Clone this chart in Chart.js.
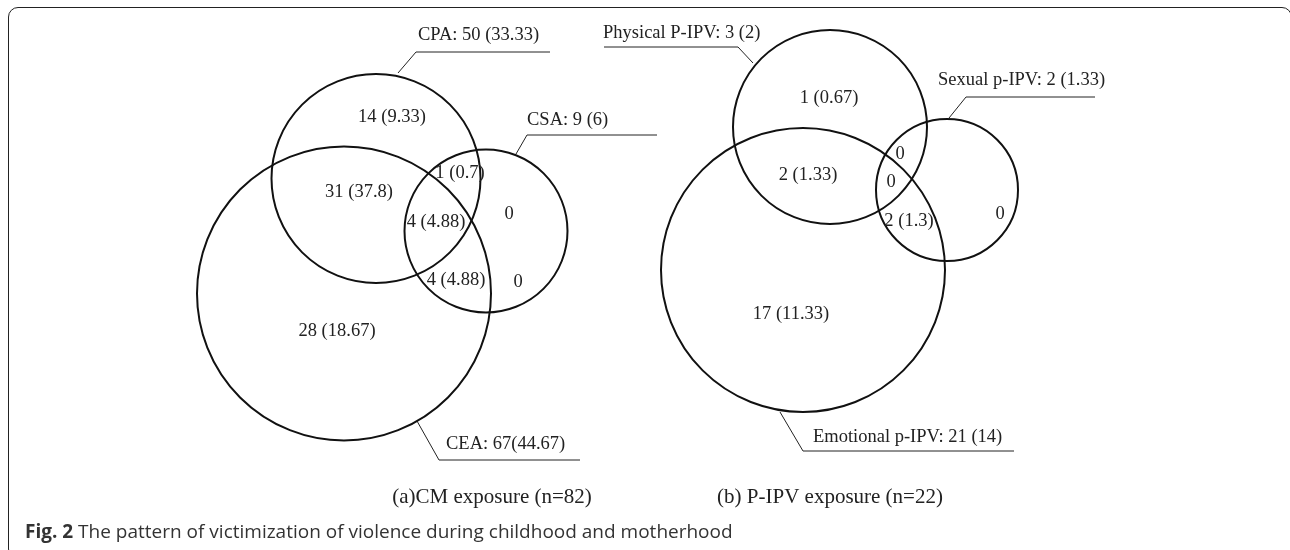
<!DOCTYPE html>
<html>
<head>
<meta charset="utf-8">
<script src="https://cdn.jsdelivr.net/npm/chart.js@4.4.1/dist/chart.umd.min.js"></script>
<style>
html, body { margin:0; padding:0; background:#fff; overflow:hidden; }
#wrap { position:relative; width:1290px; height:550px; }
#frame { position:absolute; left:8px; top:7px; width:1284px; height:552px; box-sizing:border-box;
         border:1.5px solid #222; border-radius:10px; }
canvas { position:absolute; left:0; top:0; }
</style>
</head>
<body>
<div id="wrap">
  <div id="frame"></div>
  <canvas id="venn" width="1290" height="550"></canvas>
</div>
<script>
// figure units: x 0..1290, y 0..550 (top down)
// circles - panel (a): CPA, CEA, CSA / panel (b): physical, emotional, sexual
const circleNames = ['CPA', 'CEA', 'CSA', 'Physical P-IPV', 'Emotional p-IPV', 'Sexual p-IPV'];
const circleX = [376, 344, 486, 830, 803, 947];
const circleY = [178.5, 293.5, 231, 127, 270, 190];
const circleR = [104.5, 147, 81.5, 97, 142, 71];

// counts (percent) inside each region
const regionText = ['14 (9.33)', '31 (37.8)', '1 (0.7)', '4 (4.88)', '0', '4 (4.88)', '0', '28 (18.67)',
                    '1 (0.67)', '2 (1.33)', '0', '0', '2 (1.3)', '0', '17 (11.33)'];
const regionX = [392, 359, 460, 436, 509, 456, 518, 337, 829, 808, 900, 891, 909, 1000, 791];
const regionY = [117, 192, 173, 222, 214, 280, 282, 331, 98, 175, 154, 182, 221, 214, 314];

// set totals with their leader lines
const setText = ['CPA: 50 (33.33)', 'CSA: 9 (6)', 'CEA: 67(44.67)',
                 'Physical P-IPV: 3 (2)', 'Sexual p-IPV: 2 (1.33)', 'Emotional p-IPV: 21 (14)'];
const setTextX = [418, 527, 446, 603, 938, 813];
const setTextY = [35, 120, 444, 33, 80, 437];
const leaderLines = [
    [[398, 73], [416, 52], [550, 52]],
    [[516, 154], [527, 135], [657, 135]],
    [[417, 421], [439, 460], [580, 460]],
    [[753, 63], [738, 47], [604, 47]],
    [[949, 118], [966, 97], [1095, 97]],
    [[780, 412], [803, 451], [1014, 451]]
];

const panelTitles = ['(a)CM exposure (n=82)', '(b) P-IPV exposure (n=22)'];
const panelTitleX = [492, 830];
const panelTitleY = [497, 497];

const SERIF = '"Liberation Serif", "Times New Roman", serif';

const textPlugin = {
    id: 'vennText',
    afterDatasetsDraw(chart) {
        const ctx = chart.ctx, sx = chart.scales.x, sy = chart.scales.y;
        ctx.save();
        ctx.textBaseline = 'middle';
        ctx.fillStyle = '#222';
        ctx.font = '18.5px ' + SERIF;
        ctx.textAlign = 'center';
        regionText.forEach((t, i) => ctx.fillText(t, sx.getPixelForValue(regionX[i]), sy.getPixelForValue(regionY[i])));
        ctx.textAlign = 'left';
        setText.forEach((t, i) => ctx.fillText(t, sx.getPixelForValue(setTextX[i]), sy.getPixelForValue(setTextY[i])));
        ctx.font = '21px ' + SERIF;
        ctx.textAlign = 'center';
        panelTitles.forEach((t, i) => ctx.fillText(t, sx.getPixelForValue(panelTitleX[i]), sy.getPixelForValue(panelTitleY[i])));
        // caption
        ctx.textAlign = 'left';
        ctx.fillStyle = '#333';
        ctx.font = 'bold 19px "Open Sans", sans-serif';
        const cx = sx.getPixelForValue(25), cy = sy.getPixelForValue(533);
        ctx.fillText('Fig. 2', cx, cy);
        const w = ctx.measureText('Fig. 2 ').width;
        ctx.font = '19px "Open Sans", sans-serif';
        ctx.fillText('The pattern of victimization of violence during childhood and motherhood', cx + w, cy);
        ctx.restore();
    }
};

// radius given in figure units, turned into pixels by the x scale
function unitRadius(c) {
    if (!c.raw) return 0;
    const s = c.chart.scales.x;
    const v = Math.abs(s.getPixelForValue(c.raw.size) - s.getPixelForValue(0));
    return isFinite(v) ? v : 0;
}

const circleSet = {
    type: 'scatter',
    label: 'sets',
    data: circleX.map((x, i) => ({ x: x, y: circleY[i], size: circleR[i], name: circleNames[i] })),
    showLine: false,
    pointStyle: 'circle',
    pointBackgroundColor: 'rgba(0,0,0,0)',
    pointBorderColor: '#111',
    pointBorderWidth: 2,
    pointRadius: unitRadius,
    pointHoverRadius: unitRadius,
    clip: false
};

const leaderSets = leaderLines.map(pts => ({
    type: 'line',
    data: pts.map(p => ({ x: p[0], y: p[1] })),
    borderColor: '#222',
    borderWidth: 1,
    pointRadius: 0,
    fill: false,
    tension: 0,
    clip: false
}));

const chart = new Chart(document.getElementById('venn'), {
    type: 'scatter',
    data: { datasets: [circleSet, ...leaderSets] },
    options: {
        responsive: false,
        animation: false,
        events: [],
        layout: { padding: 0, autoPadding: false },
        plugins: { legend: { display: false }, tooltip: { enabled: false } },
        scales: {
            x: { type: 'linear', min: 0, max: 1290, display: false },
            y: { type: 'linear', min: 0, max: 550, reverse: true, display: false }
        }
    },
    plugins: [textPlugin]
});
chart.update('none');
</script>
</body>
</html>
